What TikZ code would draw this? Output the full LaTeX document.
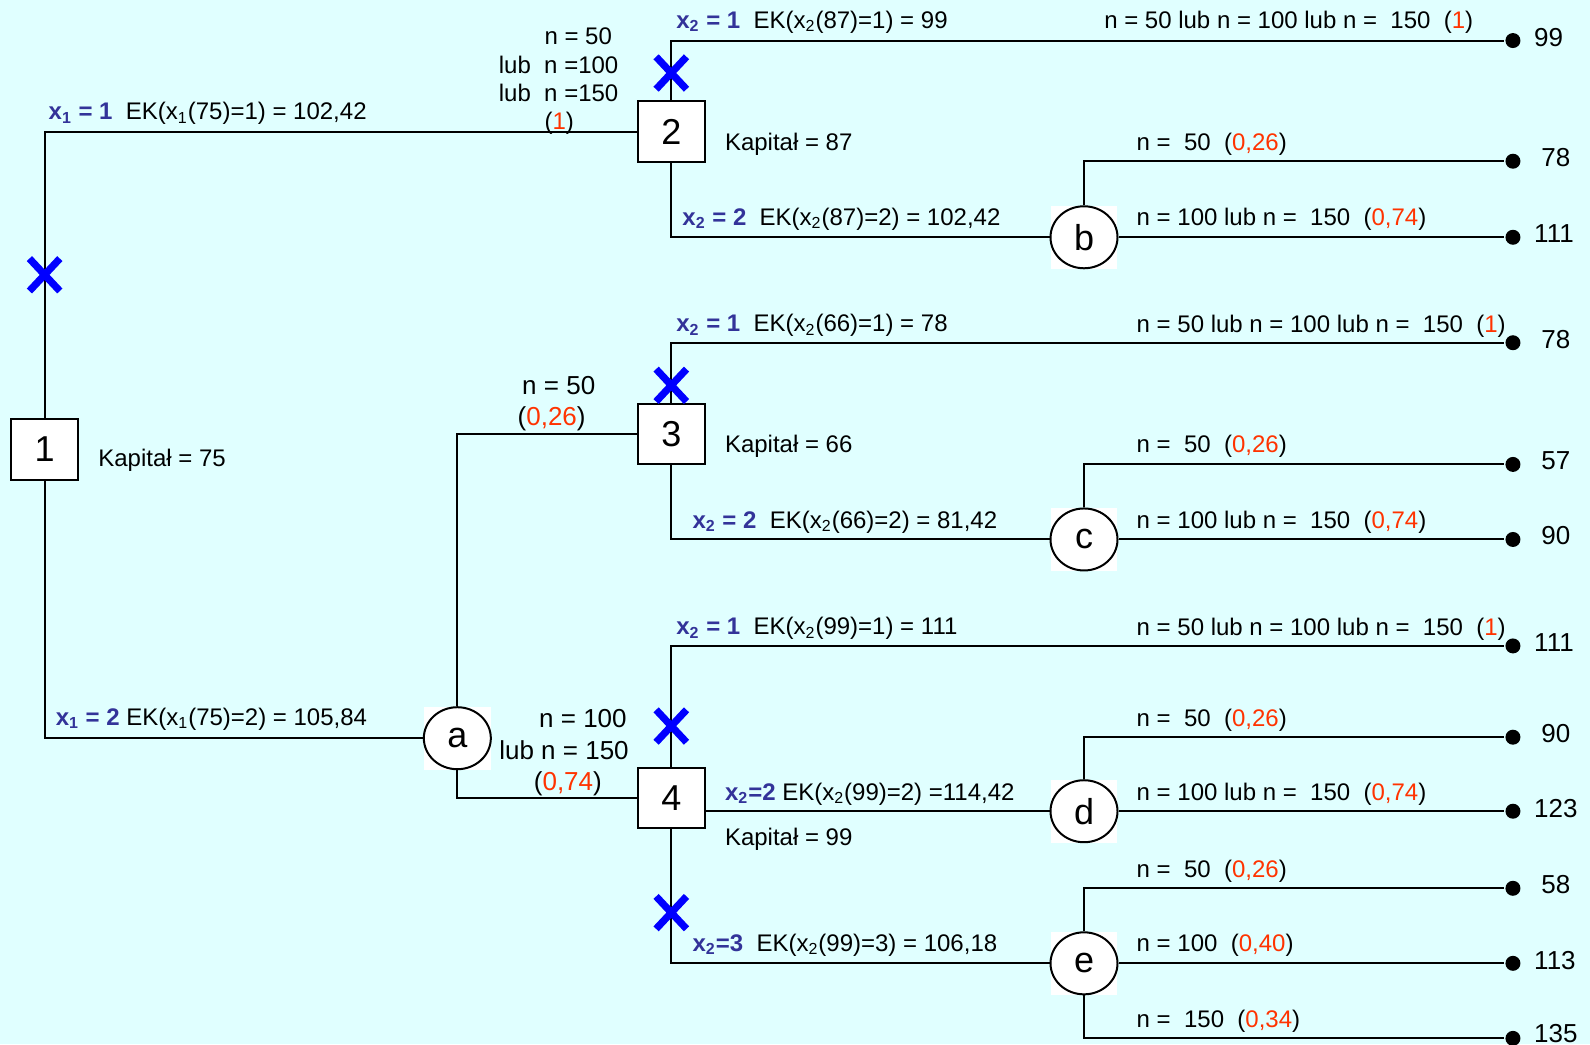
\documentclass[tikz,border=0pt]{standalone}
\usepackage{fontspec}
\setmainfont{Liberation Sans}
\usetikzlibrary{shapes.geometric}
\definecolor{bgc}{RGB}{224,255,255}
\definecolor{xblue}{RGB}{51,51,153}
\definecolor{pred}{RGB}{255,51,0}
\definecolor{xmark}{RGB}{0,0,255}
\newcommand{\xl}[1]{\textcolor{xblue}{\textbf{#1}}}
\newcommand{\pr}[1]{(\textcolor{pred}{#1})}
\newcommand{\sbx}[1]{\textsubscript{#1}}
\begin{document}
\begin{tikzpicture}[x=0.507pt,y=-0.507pt, line width=1pt,
 dbox/.style={draw, fill=white, minimum width=33.5pt, minimum height=30.4pt, inner sep=0, font=\fontsize{18}{20}\selectfont},
 chance/.style={ellipse, draw, fill=white, minimum width=33.5pt, minimum height=31pt, inner sep=0, font=\fontsize{18}{20}\selectfont},
 term/.style={circle, fill=black, minimum size=7.5pt, inner sep=0},
 lbl/.style={anchor=base west, inner sep=0, font=\fontsize{12}{14}\selectfont},
 lblc/.style={lbl, anchor=base},
 lble/.style={lbl, anchor=base east},
 big/.style={font=\fontsize{13}{15}\selectfont},
 xm/.style={draw=xmark, line width=3.6pt}]
\fill[bgc] (0,0) rectangle (1568,1030);
\useasboundingbox (0,0) rectangle (1568,1030);
% white squares behind chance nodes
\foreach \p in {(451,728),(1069,234),(1069,532),(1069,800),(1069,950)}
  \fill[white] \p ++(-33,-31) rectangle ++(66,62);
% decision nodes
\node[dbox] (n1) at (44,443) {1};
\node[dbox] (n2) at (662,130) {2};
\node[dbox] (n3) at (662,428) {3};
\node[dbox] (n4) at (662,787) {4};
% chance nodes
\node[chance] (a) at (451,728) {a};
\node[chance] (b) at (1069,234) {b};
\node[chance] (c) at (1069,532) {c};
\node[chance] (d) at (1069,800) {d};
\node[chance] (e) at (1069,950) {e};
% terminals
\node[term] (t1) at (1492,40) {};
\node[term] (t2) at (1492,159) {};
\node[term] (t3) at (1492,234) {};
\node[term] (t4) at (1492,338) {};
\node[term] (t5) at (1492,458) {};
\node[term] (t6) at (1492,532) {};
\node[term] (t7) at (1492,637) {};
\node[term] (t8) at (1492,727) {};
\node[term] (t9) at (1492,800) {};
\node[term] (t10) at (1492,876) {};
\node[term] (t11) at (1492,950) {};
\node[term] (t12) at (1492,1024) {};
% connectors
\draw (n1.north) |- (n2.west);
\draw (n1.south) |- (a.west);
\draw (a.north) |- (n3.west);
\draw (a.south) |- (n4.west);
\draw (n2.north) |- (t1);
\draw (n2.south) |- (b.west);
\draw (b.north) |- (t2);
\draw (b.east) -- (t3);
\draw (n3.north) |- (t4);
\draw (n3.south) |- (c.west);
\draw (c.north) |- (t5);
\draw (c.east) -- (t6);
\draw (n4.north) |- (t7);
\draw (n4.east |- d.west) -- (d.west);
\draw (n4.south) |- (e.west);
\draw (d.north) |- (t8);
\draw (d.east) -- (t9);
\draw (e.north) |- (t10);
\draw (e.east) -- (t11);
\draw (e.south) |- (t12);
% blue crosses
\foreach \c in {(44,271),(662,72),(662,380),(662,716),(662,900)}
  \draw[xm] \c +(-15,-16) -- +(15,16) \c +(-15,16) -- +(15,-16);
% labels
\node[lbl] (l1) at (47,118) {\xl{x\sbx{1} = 1}~~EK(x\sbx{1}(75)=1) = 102,42};
\node[lbl] (l2a) at (536,44) {n = 50};
\node[lbl] (l2b) at (491,72) {lub~~n =100};
\node[lbl] (l2c) at (491,100) {lub~~n =150};
\node[lbl] (l2d) at (536,128) {\pr{1}};
\node[lbl] (l3) at (666,28) {\xl{x\sbx{2} = 1}~~EK(x\sbx{2}(87)=1) = 99};
\node[lbl] (l4) at (1088,28) {n = 50 lub n = 100 lub n =~~150~~\pr{1}};
\node[lbl] (l5) at (714,148) {Kapitał = 87};
\node[lbl] (l6) at (1120,148) {n =~~50~~\pr{0,26}};
\node[lbl] (l7) at (672,222) {\xl{x\sbx{2} = 2}~~EK(x\sbx{2}(87)=2) = 102,42};
\node[lbl] (l8) at (1120,222) {n = 100 lub n =~~150~~\pr{0,74}};
\node[lbl] (l9) at (666,327) {\xl{x\sbx{2} = 1}~~EK(x\sbx{2}(66)=1) = 78};
\node[lbl] (l10) at (1120,328) {n = 50 lub n = 100 lub n =~~150~~\pr{1}};
\node[lblc, big] (l11a) at (551,389) {n = 50};
\node[lblc, big] (l11b) at (544,420) {\pr{0,26}};
\node[lbl] (l12) at (714,446) {Kapitał = 66};
\node[lbl] (l13) at (1120,446) {n =~~50~~\pr{0,26}};
\node[lbl] (l14) at (682,521) {\xl{x\sbx{2} = 2}~~EK(x\sbx{2}(66)=2) = 81,42};
\node[lbl] (l15) at (1120,521) {n = 100 lub n =~~150~~\pr{0,74}};
\node[lbl] (l16) at (96,460) {Kapitał = 75};
\node[lbl] (l17) at (54,715) {\xl{x\sbx{1} = 2} EK(x\sbx{1}(75)=2) = 105,84};
\node[lble, big] (l18a) at (619,717) {n = 100};
\node[lble, big] (l18b) at (621,749) {lub n = 150};
\node[lblc, big] (l18c) at (560,780) {\pr{0,74}};
\node[lbl] (l19) at (666,626) {\xl{x\sbx{2} = 1}~~EK(x\sbx{2}(99)=1) = 111};
\node[lbl] (l20) at (1120,627) {n = 50 lub n = 100 lub n =~~150~~\pr{1}};
\node[lbl] (l21) at (1120,716) {n =~~50~~\pr{0,26}};
\node[lbl] (l22) at (714,789) {\xl{x\sbx{2}=2} EK(x\sbx{2}(99)=2) =114,42};
\node[lbl] (l23) at (1120,789) {n = 100 lub n =~~150~~\pr{0,74}};
\node[lbl] (l24) at (714,834) {Kapitał = 99};
\node[lbl] (l25) at (1120,865) {n =~~50~~\pr{0,26}};
\node[lbl] (l26) at (682,938) {\xl{x\sbx{2}=3}~~EK(x\sbx{2}(99)=3) = 106,18};
\node[lbl] (l27) at (1120,938) {n = 100~~\pr{0,40}};
\node[lbl] (l28) at (1120,1013) {n =~~150~~\pr{0,34}};
% terminal values
\node[lbl, big] (v1) at (1512,46) {99};
\node[lbl, big] (v2) at (1519,164) {78};
\node[lbl, big] (v3) at (1512,239) {111};
\node[lbl, big] (v4) at (1519,344) {78};
\node[lbl, big] (v5) at (1519,463) {57};
\node[lbl, big] (v6) at (1519,537) {90};
\node[lbl, big] (v7) at (1512,642) {111};
\node[lbl, big] (v8) at (1519,732) {90};
\node[lbl, big] (v9) at (1512,806) {123};
\node[lbl, big] (v10) at (1519,881) {58};
\node[lbl, big] (v11) at (1512,956) {113};
\node[lbl, big] (v12) at (1512,1028) {135};
\end{tikzpicture}
\end{document}
